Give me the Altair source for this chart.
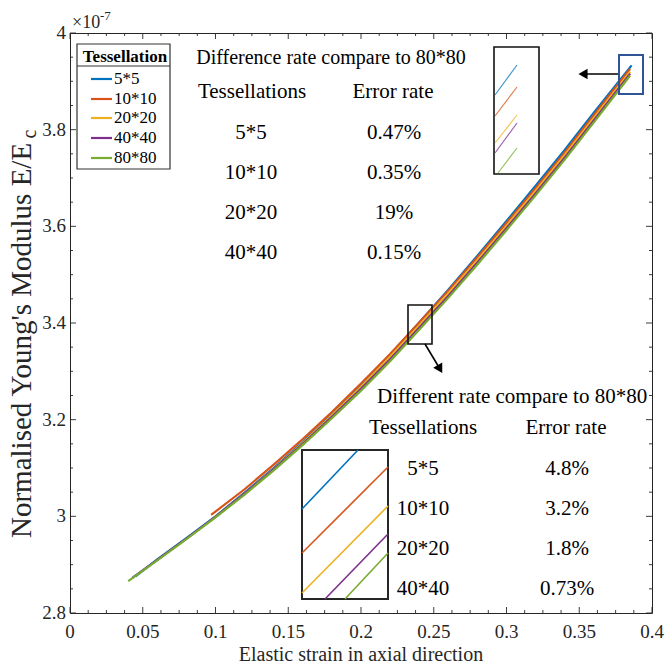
import altair as alt
import pandas as pd

# ---------------- data ----------------
tessellations = ["5*5", "10*10", "20*20", "40*40", "80*80"]
colors = ["#0072BD", "#D95319", "#EDB120", "#7E2F8E", "#77AC30"]

x_5 = [0.045, 0.060, 0.080, 0.100, 0.120, 0.140, 0.160, 0.180, 0.200, 0.220, 0.240, 0.260, 0.280, 0.300, 0.320, 0.340, 0.360, 0.386]
y_5 = [2.876, 2.911, 2.955, 3.000, 3.049, 3.100, 3.154, 3.211, 3.271, 3.334, 3.401, 3.469, 3.539, 3.611, 3.684, 3.758, 3.835, 3.933]
x_10 = [0.097, 0.120, 0.140, 0.160, 0.180, 0.200, 0.220, 0.240, 0.260, 0.280, 0.300, 0.320, 0.340, 0.360, 0.385]
y_10 = [3.003, 3.056, 3.107, 3.160, 3.216, 3.275, 3.336, 3.401, 3.467, 3.536, 3.607, 3.679, 3.753, 3.830, 3.926]
x_20 = [0.097, 0.120, 0.140, 0.160, 0.180, 0.200, 0.220, 0.240, 0.260, 0.280, 0.300, 0.320, 0.340, 0.360, 0.385]
y_20 = [2.991, 3.047, 3.098, 3.152, 3.209, 3.268, 3.330, 3.395, 3.461, 3.530, 3.601, 3.673, 3.747, 3.824, 3.920]
x_40 = [0.043, 0.060, 0.080, 0.100, 0.120, 0.140, 0.160, 0.180, 0.200, 0.220, 0.240, 0.260, 0.280, 0.300, 0.320, 0.340, 0.360, 0.385]
y_40 = [2.873, 2.910, 2.954, 2.999, 3.047, 3.097, 3.150, 3.206, 3.264, 3.325, 3.390, 3.456, 3.525, 3.596, 3.668, 3.742, 3.819, 3.916]
x_80 = [0.040, 0.060, 0.080, 0.100, 0.120, 0.140, 0.160, 0.180, 0.200, 0.220, 0.240, 0.260, 0.280, 0.300, 0.320, 0.340, 0.360, 0.385]
y_80 = [2.866, 2.909, 2.953, 2.998, 3.045, 3.095, 3.148, 3.203, 3.260, 3.321, 3.386, 3.452, 3.521, 3.592, 3.664, 3.738, 3.815, 3.912]
series_x = [x_5, x_10, x_20, x_40, x_80]
series_y = [y_5, y_10, y_20, y_40, y_80]

x_ticks = [0, 0.05, 0.1, 0.15, 0.2, 0.25, 0.3, 0.35, 0.4]
x_tick_labels = ["0", "0.05", "0.1", "0.15", "0.2", "0.25", "0.3", "0.35", "0.4"]
x_minor = [0.0125, 0.025, 0.0375, 0.0625, 0.075, 0.0875, 0.1125, 0.125, 0.1375, 0.1625, 0.175, 0.1875,
           0.2125, 0.225, 0.2375, 0.2625, 0.275, 0.2875, 0.3125, 0.325, 0.3375, 0.3625, 0.375, 0.3875]
y_ticks = [2.8, 3.0, 3.2, 3.4, 3.6, 3.8, 4.0]
y_tick_labels = ["2.8", "3", "3.2", "3.4", "3.6", "3.8", "4"]
y_minor = [2.85, 2.9, 2.95, 3.05, 3.1, 3.15, 3.25, 3.3, 3.35, 3.45, 3.5, 3.55, 3.65, 3.7, 3.75, 3.85, 3.9, 3.95]

top_rates = ["0.47%", "0.35%", "19%", "0.15%"]
bottom_rates = ["4.8%", "3.2%", "1.8%", "0.73%"]
table_rows = ["5*5", "10*10", "20*20", "40*40"]

# ---------------- layout helpers (pixel -> data) ----------------
LEFT, TOP, W, H = 70, 33, 582, 580
X0, X1, Y0, Y1 = 0.0, 0.4, 2.8, 4.0


def dx(px):
    return X0 + (px - LEFT) / W * (X1 - X0)


def dy(py):
    return Y1 - (py - TOP) / H * (Y1 - Y0)


xs = alt.Scale(domain=[X0, X1], nice=False, zero=False)
ys = alt.Scale(domain=[Y0, Y1], nice=False, zero=False)
FONT = "Liberation Serif"
AX = "#262626"


def X(f="x"):
    return alt.X(f"{f}:Q", scale=xs, axis=None)


def Y(f="y"):
    return alt.Y(f"{f}:Q", scale=ys, axis=None)


layers = []

# main curves
for i, (name, col) in enumerate(zip(tessellations, colors)):
    df = pd.DataFrame({"x": series_x[i], "y": series_y[i]})
    layers.append(alt.Chart(df).mark_line(color=col, strokeWidth=2.2).encode(x=X(), y=Y()))

# ticks (inward, MATLAB style)
tick_rows = []
for t in x_ticks:
    tick_rows.append({"x": t, "x2": t, "y": Y0, "y2": dy(TOP + H - 6)})
    tick_rows.append({"x": t, "x2": t, "y": Y1, "y2": dy(TOP + 6)})
for t in x_minor:
    tick_rows.append({"x": t, "x2": t, "y": Y0, "y2": dy(TOP + H - 3)})
    tick_rows.append({"x": t, "x2": t, "y": Y1, "y2": dy(TOP + 3)})
for t in y_ticks:
    tick_rows.append({"x": X0, "x2": dx(LEFT + 6), "y": t, "y2": t})
    tick_rows.append({"x": X1, "x2": dx(LEFT + W - 6), "y": t, "y2": t})
for t in y_minor:
    tick_rows.append({"x": X0, "x2": dx(LEFT + 3), "y": t, "y2": t})
    tick_rows.append({"x": X1, "x2": dx(LEFT + W - 3), "y": t, "y2": t})
layers.append(alt.Chart(pd.DataFrame(tick_rows)).mark_rule(color=AX, strokeWidth=0.9).encode(
    x=X(), x2="x2:Q", y=Y(), y2="y2:Q"))

# zoom boxes
boxes = [
    {"x": dx(494), "x2": dx(539), "y": dy(47), "y2": dy(174), "c": "#111111", "w": 1.6},
    {"x": dx(619), "x2": dx(643), "y": dy(55), "y2": dy(94), "c": "#2F5597", "w": 2.0},
    {"x": dx(408), "x2": dx(432), "y": dy(305), "y2": dy(344), "c": "#111111", "w": 1.6},
    {"x": dx(302), "x2": dx(388), "y": dy(450), "y2": dy(599), "c": "#262626", "w": 2.0},
]
for b in boxes:
    layers.append(alt.Chart(pd.DataFrame([b])).mark_rect(
        fill="white", fillOpacity=0, stroke=b["c"], strokeWidth=b["w"]).encode(
        x=X(), x2="x2:Q", y=Y(), y2="y2:Q"))

# magnified segments inside the insets
top_seg = [((495, 95), (517, 65)), ((495, 116), (517, 87)), ((495, 143), (517, 115)),
           ((495, 153), (517, 123)), ((498, 173), (517, 148))]
bot_seg = [((302, 509), (358, 450)), ((302, 553), (388, 467)), ((302, 593), (388, 506)),
           ((325, 599), (388, 534)), ((345, 599), (388, 553))]
for segs, w, op in [(top_seg, 1.2, 0.75), (bot_seg, 1.6, 1.0)]:
    for (p0, p1), col in zip(segs, colors):
        d = pd.DataFrame({"x": [dx(p0[0]), dx(p1[0])], "y": [dy(p0[1]), dy(p1[1])]})
        layers.append(alt.Chart(d).mark_line(color=col, strokeWidth=w, opacity=op).encode(x=X(), y=Y()))

# arrows
arrows = pd.DataFrame([
    {"x": dx(618), "x2": dx(585), "y": dy(74), "y2": dy(74)},
    {"x": dx(425), "x2": dx(440), "y": dy(344), "y2": dy(369)},
])
layers.append(alt.Chart(arrows).mark_rule(color="black", strokeWidth=1.6).encode(x=X(), x2="x2:Q", y=Y(), y2="y2:Q"))
layers.append(alt.Chart(pd.DataFrame({"x": [dx(583)], "y": [dy(74)]})).mark_point(
    shape="triangle-left", filled=True, size=110, color="black", opacity=1).encode(x=X(), y=Y()))
layers.append(alt.Chart(pd.DataFrame({"x": [dx(440)], "y": [dy(369)]})).mark_point(
    shape="triangle-up", angle=150, filled=True, size=110, color="black", opacity=1).encode(x=X(), y=Y()))


def text_layer(rows, size, align="center", baseline="middle", bold=False, angle=0, color="black"):
    kw = dict(font=FONT, fontSize=size, align=align, baseline=baseline, color=color,
              fontWeight="bold" if bold else "normal")
    if angle:
        kw["angle"] = angle
    return alt.Chart(pd.DataFrame(rows)).mark_text(**kw).encode(x=X(), y=Y(), text="t:N")


# tick labels
layers.append(text_layer([{"x": v, "y": dy(TOP + H + 19), "t": s} for v, s in zip(x_ticks, x_tick_labels)],
                         19, color=AX))
layers.append(text_layer([{"x": dx(LEFT - 4), "y": v, "t": s} for v, s in zip(y_ticks, y_tick_labels)],
                         19, align="right", color=AX))

# top table
layers.append(text_layer([{"x": dx(331), "y": dy(58), "t": "Difference rate compare to 80*80"}], 20))
layers.append(text_layer([{"x": dx(252), "y": dy(92), "t": "Tessellations"},
                          {"x": dx(393), "y": dy(92), "t": "Error rate"}], 21))
rows = []
for k, (name, rate) in enumerate(zip(table_rows, top_rates)):
    rows.append({"x": dx(251), "y": dy(133 + 40 * k), "t": name})
    rows.append({"x": dx(394), "y": dy(133 + 40 * k), "t": rate})
layers.append(text_layer(rows, 21))

# bottom table
layers.append(text_layer([{"x": dx(377), "y": dy(397), "t": "Different rate compare to 80*80"}], 21, align="left"))
layers.append(text_layer([{"x": dx(423), "y": dy(428), "t": "Tessellations"},
                          {"x": dx(566), "y": dy(428), "t": "Error rate"}], 21))
rows = []
for k, (name, rate) in enumerate(zip(table_rows, bottom_rates)):
    rows.append({"x": dx(423), "y": dy(469 + 40 * k), "t": name})
    rows.append({"x": dx(567), "y": dy(469 + 40 * k), "t": rate})
layers.append(text_layer(rows, 21))

# legend
layers.append(alt.Chart(pd.DataFrame([{"x": dx(77), "x2": dx(170), "y": dy(44), "y2": dy(169)}])).mark_rect(
    fill="white", stroke="#333333", strokeWidth=1.2).encode(x=X(), x2="x2:Q", y=Y(), y2="y2:Q"))
layers.append(alt.Chart(pd.DataFrame([{"x": dx(77), "x2": dx(170), "y": dy(66), "y2": dy(66)}])).mark_rule(
    color="#333333", strokeWidth=1.2).encode(x=X(), x2="x2:Q", y=Y(), y2="y2:Q"))
layers.append(text_layer([{"x": dx(125), "y": dy(57), "t": "Tessellation"}], 17, bold=True))
leg_y = [79, 99, 118, 138, 158]
for name, col, py in zip(tessellations, colors, leg_y):
    d = pd.DataFrame({"x": [dx(91), dx(112)], "y": [dy(py), dy(py)]})
    layers.append(alt.Chart(d).mark_line(color=col, strokeWidth=2.2).encode(x=X(), y=Y()))
layers.append(text_layer([{"x": dx(114), "y": dy(py), "t": n} for n, py in zip(tessellations, leg_y)],
                         17, align="left"))

# exponent label
layers.append(text_layer([{"x": dx(72), "y": dy(28), "t": "×10"}], 18, align="left",
                         baseline="alphabetic", color=AX))
layers.append(text_layer([{"x": dx(100), "y": dy(20), "t": "-7"}], 13, align="left",
                         baseline="alphabetic", color=AX))

# axis titles
layers.append(text_layer([{"x": dx(361), "y": dy(655), "t": "Elastic strain in axial direction"}], 20, color=AX))
YT = 29
TW = 13.763 * YT  # width of the main y-title string
ystart = 334 + (TW + 0.444 * 20) / 2
layers.append(text_layer([{"x": dx(22), "y": dy(ystart), "t": "Normalised Young's Modulus E/E"}], YT,
                         align="left", angle=270, color=AX))
layers.append(text_layer([{"x": dx(30), "y": dy(ystart - TW - 0.5), "t": "c"}], 20,
                         align="left", angle=270, color=AX))

chart = alt.layer(*layers).properties(
    width=W, height=H,
    autosize=alt.AutoSizeParams(type="none"),
    padding={"left": LEFT, "top": TOP, "right": 665 - LEFT - W, "bottom": 667 - TOP - H},
).configure_view(stroke=AX, strokeWidth=1)

chart.save("out.html", embed_options={"renderer": "svg", "actions": False})
